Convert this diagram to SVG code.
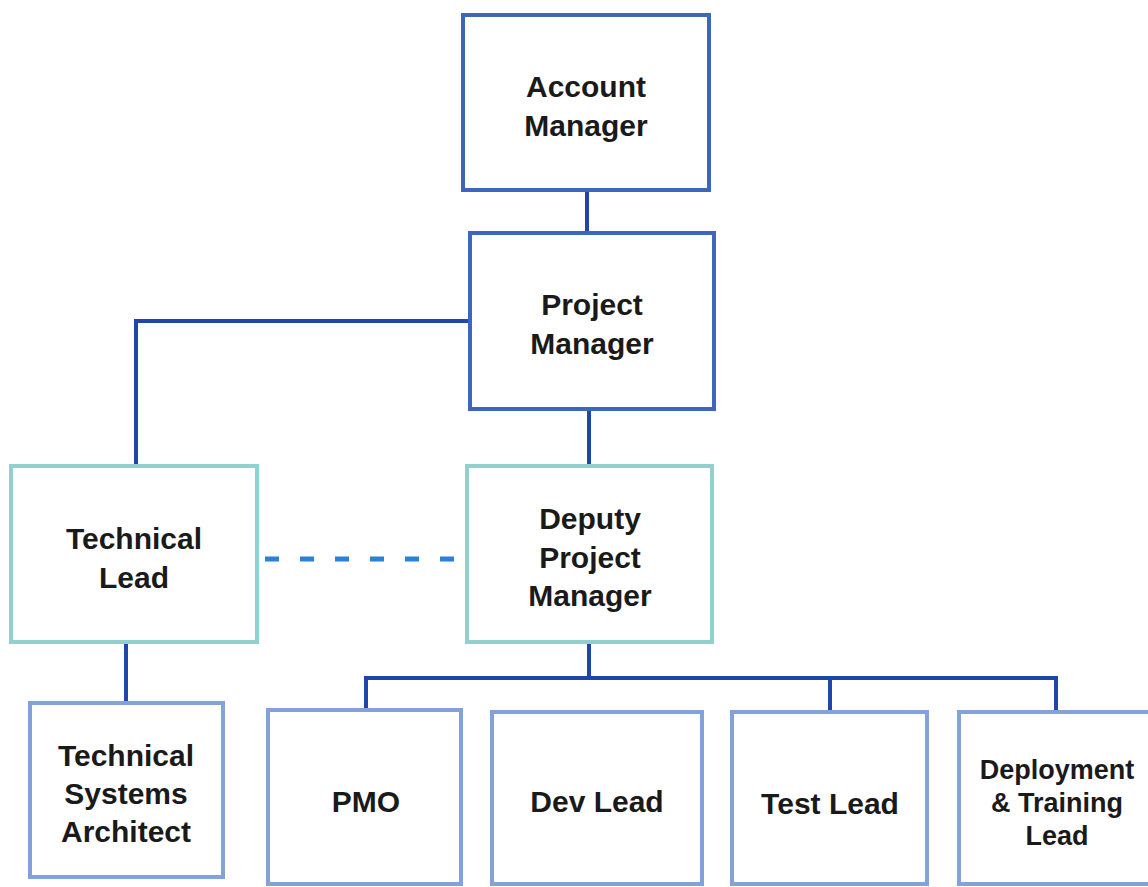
<svg xmlns="http://www.w3.org/2000/svg" width="1148" height="887" viewBox="0 0 1148 887">
<style>
.box{fill:#ffffff;stroke-width:4}
.top{stroke:#3f66bd}
.teal{stroke:#8fd1cf}
.low{stroke:#84a2da}
.conn{fill:none;stroke:#2046aa;stroke-width:4}
.dash{fill:none;stroke:#2f80d2;stroke-width:5;stroke-dasharray:14 21}
text{font-family:"Liberation Sans",Arial,sans-serif;font-weight:bold;font-size:30px;fill:#1a1a1a;text-anchor:middle}
.sm{font-size:27px}
</style>
<rect width="1148" height="887" fill="#ffffff"/>
<g id="connectors">
<path class="conn" d="M587 190 V233"/>
<path class="conn" d="M470 321 H136 V466"/>
<path class="conn" d="M589 409 V466"/>
<path class="conn" d="M126 642 V703"/>
<path class="conn" d="M589 642 V678 M366 710 V678 H1056 V712 M830 678 V712"/>
<path class="dash" d="M265 559 H456"/>
</g>
<g id="account-manager">
<rect class="box top" x="463" y="15" width="246" height="175"/>
<text x="586" y="97">Account</text>
<text x="586" y="136">Manager</text>
</g>
<g id="project-manager">
<rect class="box top" x="470" y="233" width="244" height="176"/>
<text x="592" y="315">Project</text>
<text x="592" y="354">Manager</text>
</g>
<g id="technical-lead">
<rect class="box teal" x="11" y="466" width="246" height="176"/>
<text x="134" y="549">Technical</text>
<text x="134" y="588">Lead</text>
</g>
<g id="deputy-project-manager">
<rect class="box teal" x="467" y="466" width="245" height="176"/>
<text x="590" y="529">Deputy</text>
<text x="590" y="568">Project</text>
<text x="590" y="606">Manager</text>
</g>
<g id="technical-systems-architect">
<rect class="box low" x="30" y="703" width="193" height="174"/>
<text x="126" y="766">Technical</text>
<text x="126" y="804">Systems</text>
<text x="126" y="842">Architect</text>
</g>
<g id="pmo">
<rect class="box low" x="268" y="710" width="193" height="174"/>
<text x="366" y="812">PMO</text>
</g>
<g id="dev-lead">
<rect class="box low" x="492" y="712" width="210" height="172"/>
<text x="597" y="812">Dev Lead</text>
</g>
<g id="test-lead">
<rect class="box low" x="732" y="712" width="195" height="172"/>
<text x="830" y="814">Test Lead</text>
</g>
<g id="deployment-training-lead">
<rect class="box low" x="959" y="712" width="200" height="172"/>
<text class="sm" x="1057" y="779">Deployment</text>
<text class="sm" x="1057" y="812">&amp; Training</text>
<text class="sm" x="1057" y="845">Lead</text>
</g>
</svg>
